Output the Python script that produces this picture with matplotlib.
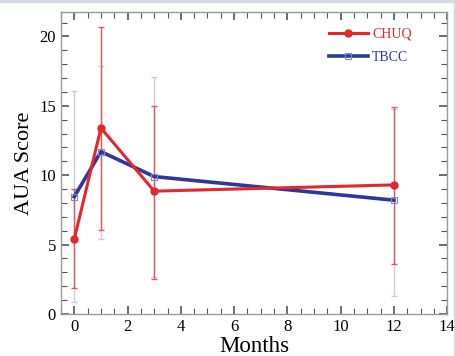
import numpy as np
import matplotlib
matplotlib.use("Agg")
import matplotlib.pyplot as plt
from matplotlib.ticker import MultipleLocator
from matplotlib.lines import Line2D

# --- data ---
months = [0, 1, 3, 12]

chuq_mean = [5.4, 13.4, 8.85, 9.3]
chuq_low = [1.85, 6.05, 2.55, 3.6]
chuq_high = [9.0, 20.7, 15.0, 14.9]

tbcc_mean = [8.45, 11.7, 9.9, 8.2]
tbcc_low = [0.9, 5.4, 2.7, 1.3]
tbcc_high = [16.05, 17.9, 17.05, 14.8]

red = '#e5262a'
red_err = '#e05858'
blue = '#2b389c'
blue_err = '#c9cbe6'

plt.rcParams['font.family'] = ['Liberation Serif', 'DejaVu Serif']

fig = plt.figure(figsize=(4.55, 3.56), dpi=100)
ax = fig.add_axes([0.134, 0.118, 0.849, 0.848])

# error bars first (drawn under the lines)
def bars(mean, lo, hi, color, z):
    m = np.array(mean)
    yerr = [m - np.array(lo), np.array(hi) - m]
    ax.errorbar(months, m, yerr=yerr, fmt='none', ecolor=color,
                elinewidth=1.0, capsize=2.5, capthick=1.0, zorder=z)

bars(tbcc_mean, tbcc_low, tbcc_high, blue_err, 1)
bars(chuq_mean, chuq_low, chuq_high, red_err, 2)

ax.plot(months, tbcc_mean, color=blue, lw=2.6, marker='s', ms=5,
        mfc='none', mec='#8088c8', mew=0.8, zorder=3, label='TBCC')
ax.plot(months, chuq_mean, color=red, lw=2.2, marker='o', ms=5,
        mfc=red, mec=red, zorder=4, label='CHUQ')

ax.set_xlim(-0.5, 14)
ax.set_ylim(0, 21.75)
ax.xaxis.set_major_locator(MultipleLocator(2))
ax.xaxis.set_minor_locator(MultipleLocator(0.5))
ax.yaxis.set_major_locator(MultipleLocator(5))
ax.yaxis.set_minor_locator(MultipleLocator(1))
ax.tick_params(which='both', direction='in', top=True, right=True,
               color='#555555', labelsize=12)
ax.tick_params(which='major', length=6, width=1.2)
ax.tick_params(which='minor', length=4, width=0.8)
for s in ax.spines.values():
    s.set_color('#999999')
    s.set_linewidth(1.0)

ax.set_ylabel('AUA Score', fontsize=16, labelpad=4)
ax.set_xlabel('Months', fontsize=16.5, labelpad=1)

h = [Line2D([], [], color=red, lw=2.2, marker='o', ms=5),
     Line2D([], [], color=blue, lw=2.6, marker='s', ms=5, mfc='none', mec='#8088c8', mew=0.8)]
leg = ax.legend(h, ['CHUQ', 'TBCC'], loc='upper right', frameon=False,
                fontsize=10, handlelength=2.8, handletextpad=0.3,
                labelspacing=0.75, bbox_to_anchor=(0.94, 0.99))
for t, c in zip(leg.get_texts(), [red, blue]):
    t.set_color(c)

# faint border of the original scan
fig.add_artist(Line2D([0, 1], [0.997, 0.997], transform=fig.transFigure,
                      color='#d6dbe3', lw=2.5, zorder=-1))
fig.add_artist(Line2D([0.998, 0.998], [0, 1], transform=fig.transFigure,
                      color='#d6dbe3', lw=1.0, zorder=-1))

fig.savefig('out.png', dpi=100)
